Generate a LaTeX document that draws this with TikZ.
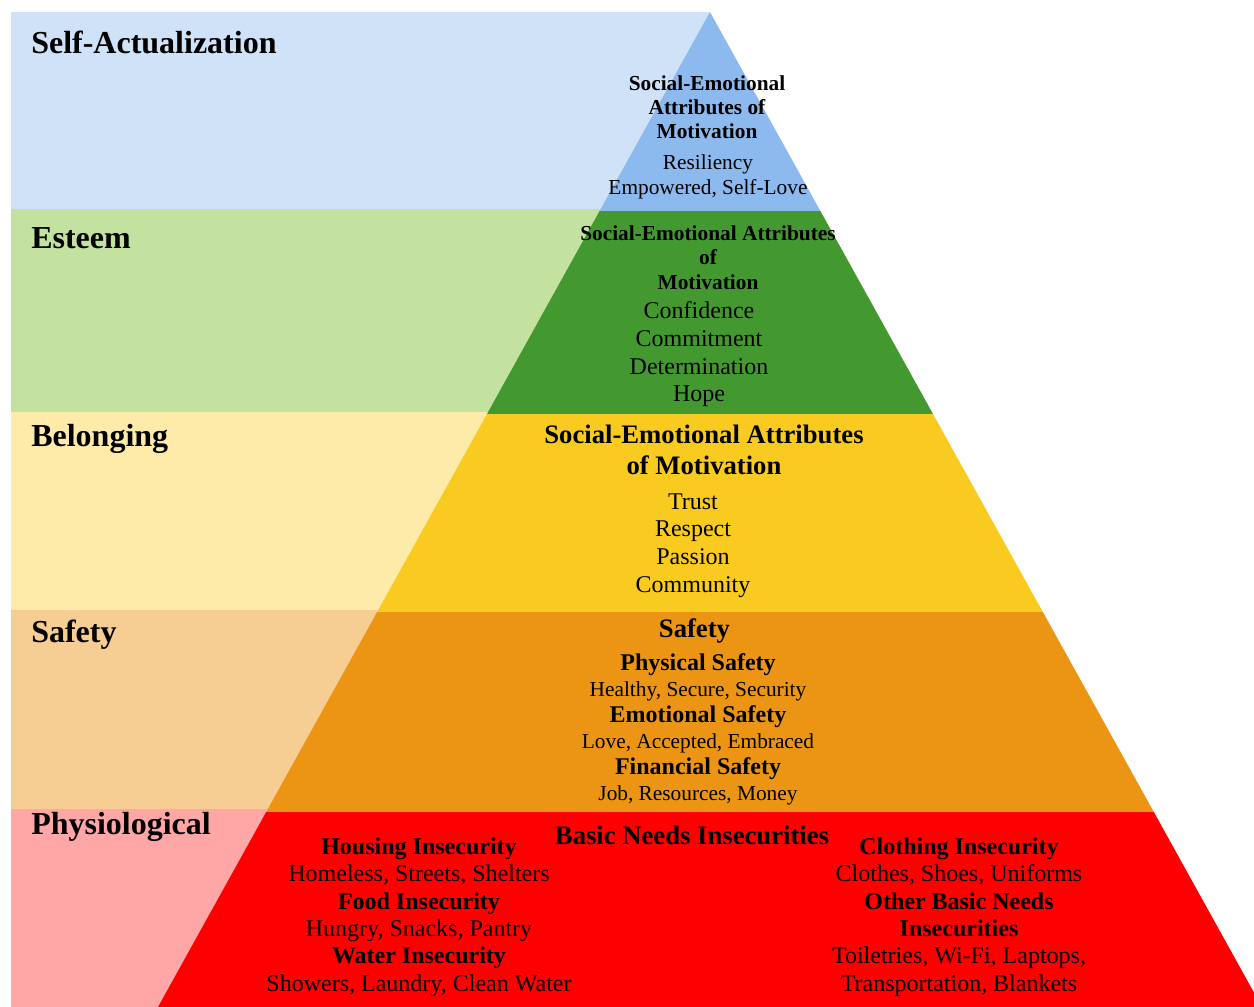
\documentclass[tikz,border=0pt]{standalone}
\usepackage{fontspec}
\setmainfont{Liberation Serif}
\definecolor{saLight}{HTML}{CFE2F7}
\definecolor{saDark}{HTML}{8CB9EE}
\definecolor{esLight}{HTML}{C3E2A0}
\definecolor{esDark}{HTML}{43992F}
\definecolor{beLight}{HTML}{FEEBA9}
\definecolor{beDark}{HTML}{F9CB21}
\definecolor{sfLight}{HTML}{F6CD93}
\definecolor{sfDark}{HTML}{EC9514}
\definecolor{phLight}{HTML}{FFA7A7}
\definecolor{phDark}{HTML}{FF0000}
\newcommand{\subhead}[1]{{\fontsize{18}{20}\selectfont\bfseries #1}}
\begin{document}
\begin{tikzpicture}[x=0.75pt,y=-0.75pt,
	level/.style={anchor=base west,inner sep=0pt,font=\fontsize{24}{28}\selectfont\bfseries},
	block/.style={align=center,inner sep=0pt}]
	\useasboundingbox (0,0) rectangle (1254,1007);
	\fill[saLight] (11,12) rectangle (710,209);
	\fill[esLight] (11,209) rectangle (710,412);
	\fill[beLight] (11,412) rectangle (710,610);
	\fill[sfLight] (11,610) rectangle (710,809);
	\fill[phLight] (11,809) rectangle (710,1007);
	\coordinate (apex) at (710,12);
	\coordinate (baseL) at (158,1007);
	\coordinate (baseR) at (1262,1007);
	\begin{scope}
		\clip (apex) -- (baseL) -- (baseR) -- cycle;
		\fill[saDark] (100,0) rectangle (1300,211);
		\fill[esDark] (100,211) rectangle (1300,414);
		\fill[beDark] (100,414) rectangle (1300,612);
		\fill[sfDark] (100,612) rectangle (1300,812);
		\fill[phDark] (100,812) rectangle (1300,1010);
	\end{scope}
	\node[level] (selfAct) at (31,53) {Self-Actualization};
	\node[level] (esteem) at (31,248) {Esteem};
	\node[level] (belong) at (31,446) {Belonging};
	\node[level] (safety) at (31,642) {Safety};
	\node[level] (physio) at (31,834) {Physiological};
	\node[block,font=\fontsize{16}{18}\selectfont\bfseries] (saHead) at (707,107) {Social-Emotional\\Attributes of\\Motivation};
	\node[block,font=\fontsize{16}{18.75}\selectfont] (saItems) at (708,177) {Resiliency\\Empowered, Self-Love};
	\node[block,font=\fontsize{16}{18.4}\selectfont\bfseries] (esHead) at (708,257.5) {Social-Emotional Attributes\\of\\Motivation};
	\node[block,font=\fontsize{18}{20.75}\selectfont] (esItems) at (699,354.5) {Confidence\\Commitment\\Determination\\Hope};
	\node[block,font=\fontsize{20}{23.25}\selectfont\bfseries] (beHead) at (704,449.5) {Social-Emotional Attributes\\of Motivation};
	\node[block,font=\fontsize{18}{20.75}\selectfont] (beItems) at (693,545.5) {Trust\\Respect\\Passion\\Community};
	\node[block,font=\fontsize{20}{24}\selectfont\bfseries] (sfTitle) at (694.5,631) {Safety};
	\node[block,font=\fontsize{16}{19.5}\selectfont] (sfItems) at (698,729) {\subhead{Physical Safety}\\Healthy, Secure, Security\\\subhead{Emotional Safety}\\Love, Accepted, Embraced\\\subhead{Financial Safety}\\Job, Resources, Money};
	\node[block,font=\fontsize{20}{24}\selectfont\bfseries] (phTitle) at (692,835) {Basic Needs Insecurities};
	\node[block,font=\fontsize{18}{20.5}\selectfont] (phLeft) at (419,917) {\subhead{Housing Insecurity}\\Homeless, Streets, Shelters\\\subhead{Food Insecurity}\\Hungry, Snacks, Pantry\\\subhead{Water Insecurity}\\Showers, Laundry, Clean Water};
	\node[block,font=\fontsize{18}{20.5}\selectfont] (phRight) at (959,917) {\subhead{Clothing Insecurity}\\Clothes, Shoes, Uniforms\\\subhead{Other Basic Needs}\\\subhead{Insecurities}\\Toiletries, Wi-Fi, Laptops,\\Transportation, Blankets};
\end{tikzpicture}
\end{document}
